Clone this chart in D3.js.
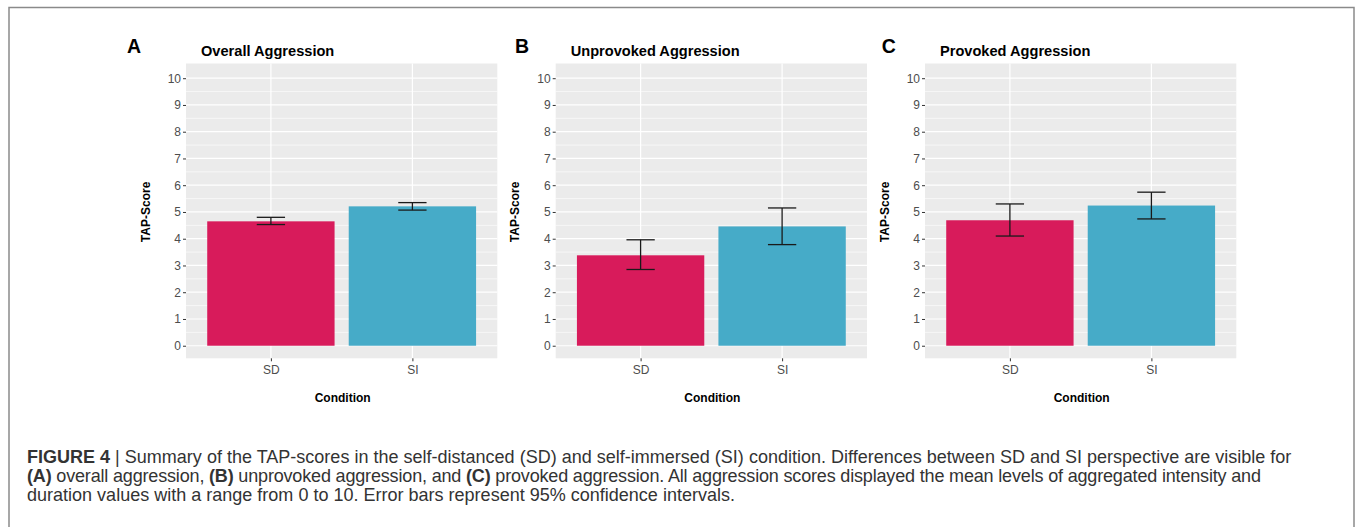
<!DOCTYPE html>
<html>
<head>
<meta charset="utf-8">
<script src="https://cdn.jsdelivr.net/npm/d3@7"></script>
<style>
  html, body { margin: 0; padding: 0; background: #fff; }
  svg { display: block; }
</style>
</head>
<body>
<svg id="chart" width="1357" height="527"></svg>
<script>
// ---------------- data ----------------
const panelLetters = ["A", "B", "C"];
const panelTitles = ["Overall Aggression", "Unprovoked Aggression", "Provoked Aggression"];
const categories = ["SD", "SI"];
const meanScores = [[4.65, 5.21], [3.38, 4.46], [4.69, 5.24]];
const ciLower = [[4.53, 5.07], [2.85, 3.78], [4.10, 4.74]];
const ciUpper = [[4.80, 5.35], [3.96, 5.15], [5.30, 5.74]];
const yTickValues = [0, 1, 2, 3, 4, 5, 6, 7, 8, 9, 10];
const yMinorValues = [0.5, 1.5, 2.5, 3.5, 4.5, 5.5, 6.5, 7.5, 8.5, 9.5];
const barColors = ["#D81B5B", "#46ABC8"];
const yAxisTitle = "TAP-Score";
const xAxisTitle = "Condition";
const captionLines = [
  [["FIGURE 4", true], [" | ", false], ["Summary of the TAP-scores in the self-distanced (SD) and self-immersed (SI) condition. Differences between SD and SI perspective are visible for", false]],
  [["(A)", true], [" overall aggression, ", false], ["(B)", true], [" unprovoked aggression, and ", false], ["(C)", true], [" provoked aggression. All aggression scores displayed the mean levels of aggregated intensity and", false]],
  [["duration values with a range from 0 to 10. Error bars represent 95% confidence intervals.", false]]
];

// ---------------- layout ----------------
const panelLeft = [186, 555.7, 925];
const panelW = 311.3;
const panelTop = 63.5, panelBottom = 358.3;
const letterX = [127, 515, 881.7];
const captionX = 27;
const captionY = [463, 482, 501];
const captionLine1Width = 1265;
const captionLine2Width = 1234;

const svg = d3.select("#chart");
const font = "'Liberation Sans', Arial, Helvetica, sans-serif";

svg.append("path")
  .attr("d", "M9,527 L9,7.5 L1354,7.5 L1354,527")
  .attr("fill", "none").attr("stroke", "#8a8a8a").attr("stroke-width", 1.5);

const y = d3.scaleLinear().domain([-0.47, 10.55]).range([panelBottom, panelTop]);

panelLetters.forEach((letter, p) => {
  const L = panelLeft[p], R = L + panelW;
  const x = d3.scalePoint().domain(categories).range([L, R]).padding(0.6);
  const step = x.step();
  const g = svg.append("g");

  g.append("rect").attr("x", L).attr("y", panelTop).attr("width", panelW)
    .attr("height", panelBottom - panelTop).attr("fill", "#EBEBEB");

  g.selectAll(".minor").data(yMinorValues).join("line")
    .attr("x1", L).attr("x2", R)
    .attr("y1", d => y(d)).attr("y2", d => y(d))
    .attr("stroke", "#fff").attr("stroke-width", 0.6);
  g.selectAll(".major").data(yTickValues).join("line")
    .attr("x1", L).attr("x2", R)
    .attr("y1", d => y(d)).attr("y2", d => y(d))
    .attr("stroke", "#fff").attr("stroke-width", 1.2);
  g.selectAll(".vmajor").data(categories).join("line")
    .attr("x1", d => x(d)).attr("x2", d => x(d))
    .attr("y1", panelTop).attr("y2", panelBottom)
    .attr("stroke", "#fff").attr("stroke-width", 1.2);

  const bw = step * 0.9;
  g.selectAll(".bar").data(categories).join("rect")
    .attr("x", d => x(d) - bw / 2)
    .attr("width", bw)
    .attr("y", (d, i) => y(meanScores[p][i]))
    .attr("height", (d, i) => y(0) - y(meanScores[p][i]))
    .attr("fill", (d, i) => barColors[i]);

  const ew = step * 0.2;
  categories.forEach((c, i) => {
    const cx = x(c);
    const lo = y(ciLower[p][i]), hi = y(ciUpper[p][i]);
    const eg = g.append("g").attr("stroke", "#1a1a1a").attr("stroke-width", 1.3).attr("fill", "none");
    eg.append("line").attr("x1", cx).attr("x2", cx).attr("y1", hi).attr("y2", lo);
    eg.append("line").attr("x1", cx - ew / 2).attr("x2", cx + ew / 2).attr("y1", hi).attr("y2", hi);
    eg.append("line").attr("x1", cx - ew / 2).attr("x2", cx + ew / 2).attr("y1", lo).attr("y2", lo);
  });

  const ya = g.append("g").attr("transform", `translate(${L},0)`)
    .call(d3.axisLeft(y).tickValues(yTickValues).tickSize(3).tickPadding(2).tickFormat(d3.format("d")));
  ya.select(".domain").remove();
  ya.selectAll(".tick line").attr("stroke", "#333").attr("stroke-width", 1);
  ya.selectAll(".tick text").attr("fill", "#4D4D4D").style("font-family", font).style("font-size", "12px");

  const xa = g.append("g").attr("transform", `translate(0,${panelBottom})`)
    .call(d3.axisBottom(x).tickSize(3).tickPadding(4));
  xa.select(".domain").remove();
  xa.selectAll(".tick line").attr("stroke", "#333").attr("stroke-width", 1);
  xa.selectAll(".tick text").attr("fill", "#4D4D4D").style("font-family", font).style("font-size", "12px");

  g.append("text").attr("x", L + 15).attr("y", 56)
    .style("font-family", font).style("font-size", "14.6px").style("font-weight", "bold")
    .attr("fill", "#000").text(panelTitles[p]);
  g.append("text").attr("x", letterX[p]).attr("y", 53)
    .style("font-family", font).style("font-size", "19.5px").style("font-weight", "bold")
    .attr("fill", "#000").text(letter);
  g.append("text").attr("text-anchor", "middle")
    .attr("transform", `translate(${L - 41 + 4.5},${(panelTop + panelBottom) / 2 + 1}) rotate(-90)`)
    .style("font-family", font).style("font-size", "12px").style("font-weight", "bold")
    .attr("fill", "#000").text(yAxisTitle);
  g.append("text").attr("text-anchor", "middle")
    .attr("x", (L + R) / 2 + 1).attr("y", 401.7)
    .style("font-family", font).style("font-size", "12px").style("font-weight", "bold")
    .attr("fill", "#000").text(xAxisTitle);
});

// caption: one common font size, fitted so that the first line has the reference width
const capTexts = captionLines.map((parts, li) => {
  const t = svg.append("text").attr("x", captionX).attr("y", captionY[li])
    .style("font-family", "'Liberation Sans', Arial, sans-serif").style("font-size", "16px")
    .attr("fill", "#333");
  parts.forEach(([s, b]) => {
    t.append("tspan").style("font-weight", b ? "bold" : "normal").text(s);
  });
  return t;
});
const w1 = capTexts[0].node().getComputedTextLength();
const fs = 16 * captionLine1Width / w1;
capTexts.forEach(t => t.style("font-size", fs + "px"));
capTexts[1].attr("textLength", captionLine2Width).attr("lengthAdjust", "spacing");
</script>
</body>
</html>
